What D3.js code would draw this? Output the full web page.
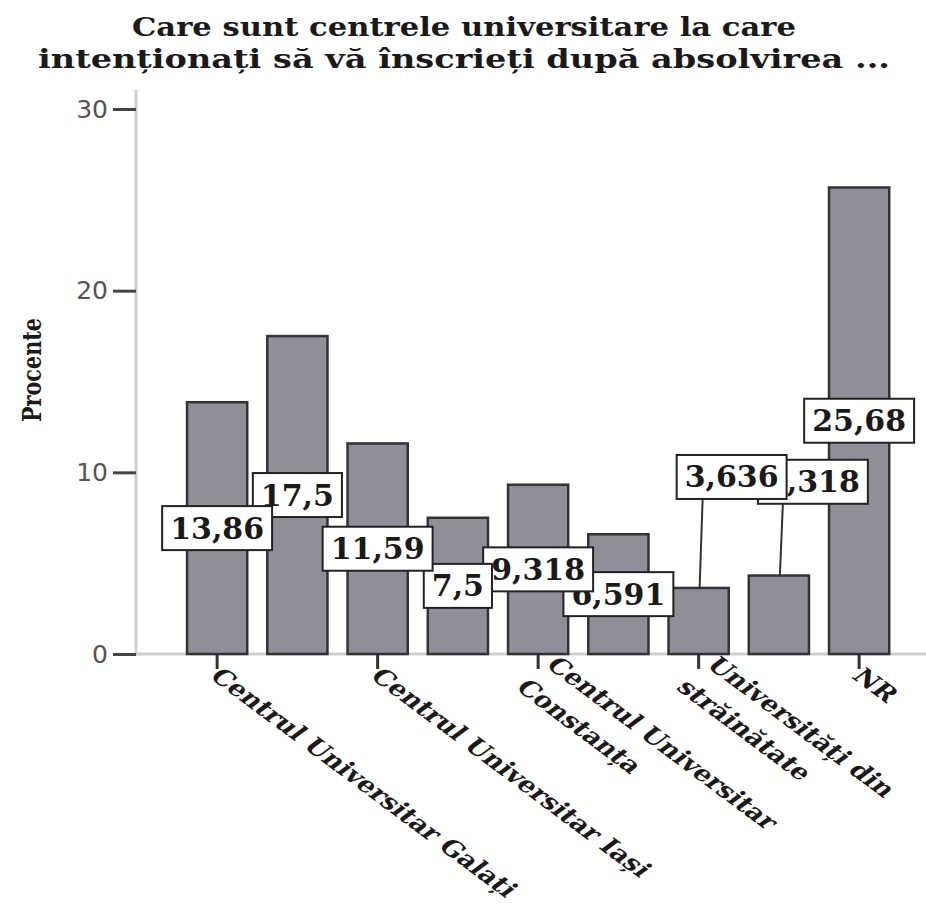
<!DOCTYPE html>
<html>
<head>
<meta charset="utf-8">
<script src="https://cdn.jsdelivr.net/npm/d3@7/dist/d3.min.js"></script>
<style>
  html, body { margin: 0; padding: 0; background: #fff; }
  svg { display: block; }
</style>
</head>
<body>
<svg id="chart" width="926" height="905"></svg>
<script>
// ---- data ----
const titleLines = ["Care sunt centrele universitare la care", "intenționați să vă înscrieți după absolvirea ..."];
const yAxisTitle = "Procente";
const categories = ["Centrul Universitar Galați", null, "Centrul Universitar Iași", null,
                    "Centrul Universitar Constanța", null, "Universități din străinătate", null, "NR"];
const values = [13.86, 17.5, 11.59, 7.5, 9.318, 6.591, 3.636, 4.318, 25.68];
const yTicks = [0, 10, 20, 30];

// ---- layout ----
const svg = d3.select("#chart");
const serif = "'DejaVu Serif', serif";

const x = d3.scaleBand()
  .domain(d3.range(values.length))
  .range([177, 899.25])
  .paddingInner(0.25)
  .paddingOuter(0.125);
const y = d3.scaleLinear().domain([0, 30]).range([654, 109]);

// title
const title = svg.append("g").attr("font-family", serif).attr("font-weight", "bold")
  .attr("text-anchor", "middle").attr("fill", "#1a1a1a");
const titleWidths = [664, 852];
titleLines.forEach((t, i) => {
  title.append("text").attr("x", 464).attr("y", 36 + i * 32).attr("font-size", 26.5)
    .attr("textLength", titleWidths[i]).attr("lengthAdjust", "spacingAndGlyphs").text(t);
});

// y axis title
svg.append("text")
  .attr("transform", "translate(41,370) rotate(-90)")
  .attr("text-anchor", "middle")
  .attr("font-family", serif).attr("font-weight", "bold")
  .attr("font-size", 26).attr("fill", "#1a1a1a")
  .attr("textLength", 104).attr("lengthAdjust", "spacingAndGlyphs")
  .text(yAxisTitle);

// axes lines
svg.append("line").attr("x1", 136).attr("x2", 136).attr("y1", 90).attr("y2", 655)
  .attr("stroke", "#cfcfcf").attr("stroke-width", 3);
svg.append("line").attr("x1", 136).attr("x2", 926).attr("y1", 654).attr("y2", 654)
  .attr("stroke", "#cfcfcf").attr("stroke-width", 3);

// y axis ticks
const yAxis = d3.axisLeft(y).tickValues(yTicks).tickSize(23).tickPadding(5).tickFormat(d3.format("d"));
const gy = svg.append("g").attr("transform", "translate(136,0)").call(yAxis);
gy.select(".domain").remove();
gy.selectAll(".tick line").attr("stroke", "#444").attr("stroke-width", 3);
gy.selectAll(".tick text").attr("font-family", "'DejaVu Sans', sans-serif")
  .attr("font-size", 25).attr("fill", "#555");

// bars
svg.append("g").selectAll("rect").data(values).join("rect")
  .attr("x", (d, i) => x(i))
  .attr("y", d => y(d))
  .attr("width", x.bandwidth())
  .attr("height", d => y(0) - y(d))
  .attr("fill", "#8f9097")
  .attr("stroke", "#333")
  .attr("stroke-width", 2.5);

// x axis ticks (only labelled categories)
const labelled = d3.range(values.length).filter(i => categories[i]);
const xAxis = d3.axisBottom(x).tickValues(labelled).tickSize(15).tickFormat("");
const gx = svg.append("g").attr("transform", "translate(0,654)").call(xAxis);
gx.select(".domain").remove();
gx.selectAll(".tick line").attr("stroke", "#333").attr("stroke-width", 3);

// x labels: rotated, with the picture's vertical squash
function wrap(s, max) {
  const words = s.split(" "), lines = [];
  let cur = "";
  words.forEach(w => {
    const t = cur ? cur + " " + w : w;
    if (t.length > max && cur) { lines.push(cur); cur = w; } else cur = t;
  });
  lines.push(cur);
  return lines;
}
const xl = svg.append("g").attr("font-family", serif).attr("font-weight", "bold").attr("fill", "#1a1a1a");
const p2 = xl.append("text").attr("font-size", 25).text(categories[0]);
const xfs = 25 * 420 / p2.node().getComputedTextLength();
p2.remove();
const lh = xfs * 1.5;
labelled.forEach(i => {
  const lines = wrap(categories[i], 26);
  const cx = x(i) + x.bandwidth() / 2;
  const g = xl.append("g").attr("transform", `translate(${cx},669) scale(1,0.745) rotate(45)`);
  lines.forEach((ln, k) => {
    g.append("text").attr("x", 2).attr("y", (k - (lines.length - 1) / 2) * lh + xfs * 0.12)
      .attr("dominant-baseline", "central").attr("font-size", xfs).text(ln);
  });
});

// value labels (drawn right-to-left so the left ones sit on top)
const labelShift = { 6: [33, -144], 7: [34, -133] };
const lg = svg.append("g");
d3.range(values.length).reverse().forEach(i => {
  const v = values[i];
  const cx = x(i) + x.bandwidth() / 2;
  const sh = labelShift[i] || [0, 0];
  const lx = cx + sh[0], ly = y(v / 2) + sh[1];
  const g = lg.append("g");
  const t = g.append("text").attr("x", lx).attr("y", ly)
    .attr("text-anchor", "middle").attr("dominant-baseline", "central")
    .attr("font-family", serif).attr("font-weight", "bold").attr("font-size", 30)
    .attr("fill", "#1a1a1a")
    .text(String(v).replace(".", ","));
  const tw = t.node().getComputedTextLength();
  const bw = tw + 16, bh = 44;
  if (labelShift[i]) {
    lg.insert("line", ":first-child")
      .attr("x1", cx + 1).attr("y1", y(v))
      .attr("x2", cx + 4).attr("y2", ly + bh / 2)
      .attr("stroke", "#333").attr("stroke-width", 2);
  }
  g.insert("rect", "text").attr("x", lx - bw / 2).attr("y", ly - bh / 2)
    .attr("width", bw).attr("height", bh)
    .attr("fill", "#fff").attr("stroke", "#222").attr("stroke-width", 2);
});
</script>
</body>
</html>
